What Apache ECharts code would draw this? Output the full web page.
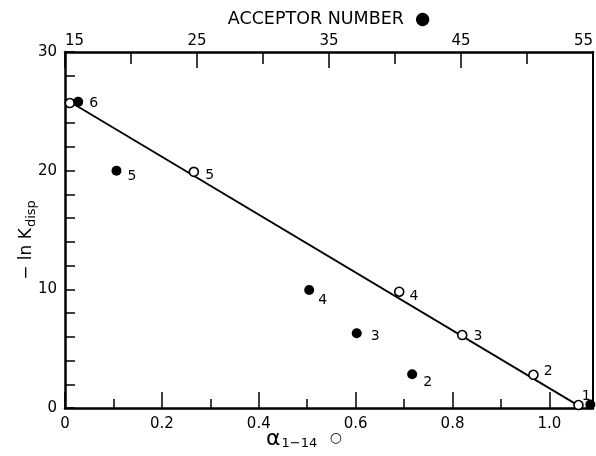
<!DOCTYPE html>
<html>
<head>
<meta charset="utf-8">
<script src="https://cdn.jsdelivr.net/npm/echarts@6/dist/echarts.min.js"></script>
<style>
  html, body { margin: 0; padding: 0; background: #fff; }
  #chart { width: 596px; height: 456px; }
</style>
</head>
<body>
<div id="chart"></div>
<script>
// alpha(1-14) series, open circles (bottom axis)
var openAlpha = [0.01, 0.266, 0.69, 0.82, 0.967, 1.06];
var openLnK = [25.7, 19.9, 9.8, 6.15, 2.8, 0.25];
var openLabels = ['', '5', '4', '3', '2', '1'];

// acceptor number series, filled circles (top axis)
var acceptorNum = [16, 18.9, 33.5, 37.1, 41.3, 54.8];
var filledLnK = [25.8, 20.0, 9.95, 6.3, 2.85, 0.3];
var filledLabels = ['6', '5', '4', '3', '2', ''];

// fitted line through the open circles
var fitLine = [[0.01, 25.8], [1.06, 0.2]];

var font = 'DejaVu Sans';

// label offsets [dx, dy] per point, just for layout
var openOffsets = [[0, 0], [4, 4], [3, 5], [4, 1], [3, -3], [-4, -9]];
var filledOffsets = [[4, 2], [4, 6], [2, 10], [7, 3], [4, 8], [0, 0]];

function pts(xs, ys, labels, offs) {
  return xs.map(function (x, i) {
    return {
      value: [x, ys[i]],
      label: { show: labels[i] !== '', formatter: labels[i], offset: offs[i] }
    };
  });
}

function tickAxis(pos, min, max, interval, len) {
  return {
    type: 'value', position: pos, min: min, max: max, interval: interval,
    axisLine: { show: false, onZero: false },
    axisTick: { inside: true, length: len, lineStyle: { color: '#000', width: 1.5 } },
    axisLabel: { show: false },
    splitLine: { show: false }
  };
}

var chart = echarts.init(document.getElementById('chart'));
chart.setOption({
  animation: false,
  textStyle: { fontFamily: font, color: '#000' },
  grid: { left: 65, right: 2, top: 52, bottom: 48 },
  xAxis: [
    {
      type: 'value', position: 'bottom', min: 0, max: 1.09, interval: 0.2,
      axisLine: { show: true, onZero: false, lineStyle: { color: '#000', width: 2.5 } },
      axisTick: { inside: true, length: 16, lineStyle: { color: '#000', width: 1.5 } },
      axisLabel: {
        fontFamily: font, fontSize: 15, color: '#000', margin: 9, showMaxLabel: false,
        formatter: function (v) { return v === 0 ? '0' : v.toFixed(1); }
      },
      splitLine: { show: false }
    },
    {
      type: 'value', position: 'top', min: 15, max: 55, interval: 10,
      name: 'ACCEPTOR NUMBER  \u25CF', nameLocation: 'middle', nameGap: 24,
      nameTextStyle: { fontFamily: font, fontSize: 17.5, color: '#000' },
      axisLine: { show: true, onZero: false, lineStyle: { color: '#000', width: 2.5 } },
      axisTick: { inside: true, length: 16, lineStyle: { color: '#000', width: 1.5 } },
      axisLabel: {
        fontFamily: font, fontSize: 15, color: '#000', margin: 3,
        alignMinLabel: 'left', alignMaxLabel: 'right'
      },
      splitLine: { show: false }
    },
    // short ticks: every 0.1 at the bottom, every 5 at the top
    tickAxis('bottom', 0, 1.09, 0.1, 9),
    tickAxis('top', 15, 55, 5, 12)
  ],
  yAxis: [
    {
      type: 'value', min: 0, max: 30, interval: 2,
      axisLine: { show: true, onZero: false, lineStyle: { color: '#000', width: 2.5 } },
      axisTick: { inside: true, length: 10, lineStyle: { color: '#000', width: 1.5 } },
      axisLabel: {
        fontFamily: font, fontSize: 15, color: '#000', margin: 8,
        formatter: function (v) { return v % 10 === 0 ? String(v) : ''; }
      },
      splitLine: { show: false }
    },
    {
      type: 'value', position: 'right', min: 0, max: 30,
      axisLine: { show: true, onZero: false, lineStyle: { color: '#000', width: 2 } },
      axisTick: { show: false },
      axisLabel: { show: false },
      splitLine: { show: false }
    }
  ],
  graphic: [
    {
      type: 'text', x: 27, y: 240, rotation: Math.PI / 2,
      style: {
        text: '{a|\u2212 ln K}{b|disp}',
        align: 'center', verticalAlign: 'middle',
        rich: {
          a: { fontFamily: font, fontSize: 17, fill: '#000' },
          b: { fontFamily: font, fontSize: 13, fill: '#000', padding: [10, 0, 0, 1] }
        }
      }
    },
    {
      type: 'text', left: 266, top: 428,
      style: {
        text: '{a|\u03B1}{b|1\u221214}{c| \u25CB}',
        rich: {
          a: { fontFamily: font, fontSize: 22, fill: '#000' },
          b: { fontFamily: font, fontSize: 13, fill: '#000', padding: [10, 0, 0, 1] },
          c: { fontFamily: font, fontSize: 14, fill: '#000', padding: [0, 0, 2, 8] }
        }
      }
    }
  ],
  series: [
    {
      type: 'line', xAxisIndex: 0, yAxisIndex: 0, data: fitLine,
      showSymbol: false, symbol: 'none',
      lineStyle: { color: '#000', width: 1.8 }, z: 1
    },
    {
      type: 'scatter', xAxisIndex: 0, yAxisIndex: 0,
      data: pts(openAlpha, openLnK, openLabels, openOffsets),
      symbol: 'circle', symbolSize: 9,
      itemStyle: { color: '#fff', borderColor: '#000', borderWidth: 1.6, opacity: 1 },
      label: { position: 'right', fontFamily: font, fontSize: 14, color: '#000', distance: 2 },
      z: 3
    },
    {
      type: 'scatter', xAxisIndex: 1, yAxisIndex: 0,
      data: pts(acceptorNum, filledLnK, filledLabels, filledOffsets),
      symbol: 'circle', symbolSize: 10,
      itemStyle: { color: '#000', opacity: 1 },
      label: { position: 'right', fontFamily: font, fontSize: 14, color: '#000', distance: 2 },
      z: 4
    }
  ]
});
</script>
</body>
</html>
